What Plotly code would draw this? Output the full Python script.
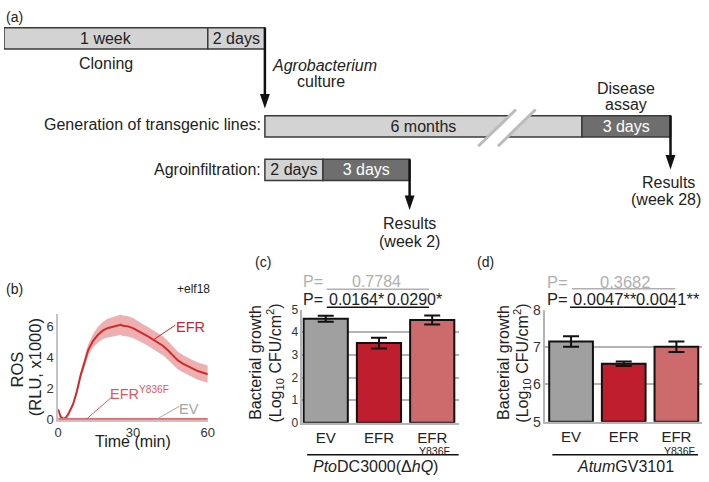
import plotly.graph_objects as go

W, H = 709, 482
FONT = "Liberation Sans, Arial, Helvetica, sans-serif"
INK = "#222222"

# ---- (a) experimental timeline (schematic units) ----
stage_labels = ["1 week", "2 days", "6 months", "3 days", "2 days", "3 days"]
stage_start = [0, 207, 265, 587, 265, 324]
stage_end = [207, 265, 587, 677, 324, 412]
stage_row = [31.5, 31.5, 122.5, 122.5, 167.5, 167.5]
stage_dark = [False, False, False, True, False, True]

# ---- (b) ROS burst, +elf18 ----
ros_time = [0, 1, 2, 3, 4, 5, 6, 7.5, 9, 10.5, 12, 14, 16, 18, 20, 22, 24, 25, 26, 28,
            30, 32, 34, 36, 38, 40, 42, 44, 46, 48, 50, 52, 54, 56, 58, 60]
efr_mean = [0.68, 0.2, 0.07, 0.12, 0.35, 0.7, 1.0, 1.82, 2.85, 3.64, 4.45, 5.05, 5.45, 5.72,
            5.88, 5.95, 6.02, 6.08, 6.02, 5.98, 5.87, 5.72, 5.52, 5.34, 5.14, 4.95, 4.74,
            4.45, 4.12, 3.8, 3.6, 3.42, 3.27, 3.12, 3.02, 2.92]
efr_err = [0.05, 0.05, 0.05, 0.05, 0.07, 0.1, 0.12, 0.18, 0.25, 0.3, 0.36, 0.42, 0.5, 0.55,
           0.6, 0.62, 0.65, 0.66, 0.66, 0.65, 0.64, 0.62, 0.6, 0.6, 0.6, 0.6, 0.6, 0.6,
           0.58, 0.56, 0.55, 0.55, 0.55, 0.55, 0.55, 0.55]
flat_time = [0, 10, 20, 30, 40, 50, 60]
mut_mean = [0.06, 0.05, 0.05, 0.05, 0.05, 0.05, 0.05]
ev_mean = [0.0, 0.0, 0.0, 0.0, 0.0, 0.0, 0.0]

# ---- (c) / (d) bacterial growth ----
genotypes = ["EV", "EFR", "EFR"]
mutant_tag = "Y836F"
pto_mean = [4.6, 3.52, 4.54]
pto_err = [0.13, 0.24, 0.2]
atum_mean = [7.15, 6.55, 7.01]
atum_err = [0.14, 0.06, 0.14]
bar_colors = ["#A0A0A0", "#BE1E2D", "#CD6A6B"]


def px(x):
    return x / W


def py(y):
    return 1 - y / H


fig = go.Figure()

# timeline bars
fig.add_trace(go.Bar(
    orientation='h',
    y=stage_row,
    x=[e - s for s, e in zip(stage_start, stage_end)],
    base=stage_start,
    width=22,
    text=stage_labels,
    textposition='inside',
    insidetextanchor='middle',
    constraintext='none',
    textangle=0,
    insidetextfont=dict(size=16, color=['white' if d else INK for d in stage_dark]),
    marker=dict(color=['#6E6E6E' if d else '#D3D3D3' for d in stage_dark],
                line=dict(color='#3A3A3A', width=1.5)),
    hoverinfo='skip',
    xaxis='x4', yaxis='y4'
))

# ROS traces
fig.add_trace(go.Scatter(x=ros_time, y=[m + e for m, e in zip(efr_mean, efr_err)],
                         mode='lines', line=dict(width=0), hoverinfo='skip'))
fig.add_trace(go.Scatter(x=ros_time, y=[m - e for m, e in zip(efr_mean, efr_err)],
                         mode='lines', line=dict(width=0), fill='tonexty',
                         fillcolor='rgba(222,110,110,0.55)', hoverinfo='skip'))
fig.add_trace(go.Scatter(x=ros_time, y=efr_mean, mode='lines',
                         line=dict(color='#D22A2A', width=2)))
fig.add_trace(go.Scatter(x=flat_time, y=ev_mean, mode='lines',
                         line=dict(color='#A8A8A8', width=2)))
fig.add_trace(go.Scatter(x=flat_time, y=mut_mean, mode='lines',
                         line=dict(color='#EC6A70', width=2)))

# growth bars
fig.add_trace(go.Bar(
    x=[0, 1, 2], y=pto_mean, width=0.83,
    marker=dict(color=bar_colors, line=dict(color='#111', width=2)),
    error_y=dict(type='data', array=pto_err, color='#111', thickness=2, width=8),
    xaxis='x2', yaxis='y2'
))
fig.add_trace(go.Bar(
    x=[0, 1, 2], y=[m - 5 for m in atum_mean], base=[5, 5, 5], width=0.83,
    marker=dict(color=bar_colors, line=dict(color='#111', width=2)),
    error_y=dict(type='data', array=atum_err, color='#111', thickness=2, width=8),
    xaxis='x3', yaxis='y3'
))

GRID = '#B4B4B4'
tick_font = dict(size=13, color='#333')
bar_axis = dict(showline=True, linecolor=GRID, linewidth=1.5, ticks='', zeroline=False)

fig.update_layout(
    width=W, height=H,
    margin=dict(l=0, r=0, t=0, b=0),
    paper_bgcolor='white', plot_bgcolor='white',
    font=dict(family=FONT, color=INK),
    showlegend=False,
    barmode='overlay',
    xaxis4=dict(domain=[0, 1], range=[0, W], visible=False, anchor='y4'),
    yaxis4=dict(domain=[py(250), 1], range=[250, 0], visible=False, anchor='x4'),
    xaxis=dict(domain=[px(55), px(207)], range=[0, 60], tickvals=[0, 30, 60],
               showline=True, linecolor='#C4C4C4', linewidth=1.5, ticks='',
               showgrid=False, zeroline=False, tickfont=tick_font, anchor='y'),
    yaxis=dict(domain=[py(426), py(317)], range=[0, 6.74], tickvals=[0, 2, 4, 6],
               showline=True, linecolor='#C4C4C4', linewidth=1.5, ticks='',
               showgrid=False, zeroline=False, tickfont=tick_font, anchor='x'),
    xaxis2=dict(domain=[px(303), px(462)], range=[-0.44, 2.5], tickvals=[0, 1, 2],
                ticktext=genotypes, showgrid=False, tickfont=dict(size=15, color=INK),
                anchor='y2', **bar_axis),
    yaxis2=dict(domain=[py(429), py(312)], range=[0, 5], tickvals=[0, 1, 2, 3, 4, 5],
                showgrid=True, gridcolor=GRID, gridwidth=1.5,
                tickfont=dict(size=12, color='#333'), anchor='x2', **bar_axis),
    xaxis3=dict(domain=[px(550), 1], range=[-0.486, 2.486], tickvals=[0, 1, 2],
                ticktext=genotypes, showgrid=False, tickfont=dict(size=15, color=INK),
                anchor='y3', **bar_axis),
    yaxis3=dict(domain=[py(428), py(312)], range=[5, 8], tickvals=[5, 6, 7, 8],
                showgrid=True, gridcolor=GRID, gridwidth=1.5,
                tickfont=dict(size=14, color='#333'), anchor='x3', **bar_axis),
)

ann = []
shapes = []


def note(text, x, y, size=16, color=INK, xanchor='center', angle=0, xref='paper', yref='paper'):
    # x, y in pixels when the ref is 'paper', otherwise in axis units
    if xref == 'paper':
        x = px(x)
    if yref == 'paper':
        y = py(y)
    ann.append(dict(text=text, x=x, y=y, xref=xref, yref=yref, showarrow=False,
                    xanchor=xanchor, yanchor='middle', textangle=angle,
                    font=dict(size=size, color=color, family=FONT)))


# panel letters
note('(a)', 0, 9, size=14, xanchor='left')
note('(b)', 0, 291, size=14, xanchor='left')
note('(c)', 253, 263, size=14, xanchor='left')
note('(d)', 478, 263, size=14, xanchor='left')

# (a) labels
note('Cloning', 104, 57)
note('<i>Agrobacterium</i>', 270, 59, xanchor='left')
note('culture', 322, 76)
note('Generation of transgenic lines:', 263, 121, xanchor='right')
note('Agroinfiltration:', 263, 167, xanchor='right')
note('Disease', 632, 83)
note('assay', 632, 100)
note('Results', 412, 223)
note('(week 2)', 412, 241)
note('Results', 675, 180)
note('(week 28)', 672, 198)

# arrows at the end of each row: shaft + head
for xa, top, tip in [(265, 20.5, 104), (677, 111.5, 167), (412, 156.5, 209)]:
    shapes.append(dict(type='line', xref='x4', yref='y4', x0=xa, x1=xa, y0=top, y1=tip - 10,
                       line=dict(color='#111', width=2.5)))
    shapes.append(dict(type='path', xref='x4', yref='y4',
                       path=f'M {xa - 5} {tip - 15} L {xa + 5} {tip - 15} L {xa} {tip} Z',
                       fillcolor='#111', line=dict(width=0)))

# break marks on the 6 month bar
shapes.append(dict(type='path', xref='x4', yref='y4',
                   path='M 481.7 143 L 520 105 L 540 105 L 501.7 143 Z',
                   fillcolor='white', line=dict(width=0)))
for x0 in (481.7, 501.7):
    shapes.append(dict(type='line', xref='x4', yref='y4', x0=x0, y0=143, x1=x0 + 38.3, y1=105,
                       line=dict(color='#BBBBBB', width=3)))

# (b) labels
note('+elf18', 192, 291, size=12)
note('ROS', 13, 374, size=16.5, angle=-90)
note('(RLU, x1000)', 31, 372, size=16.5, angle=-90)
note('Time (min)', 131, 448, size=16)
note('EFR', 52.9, 5.94, size=14.5, color='#C8262C', xref='x', yref='y')
note('EFR<sup>Y836F</sup>', 20.1, 1.73, size=14.5, color='#E2585D', xanchor='left', xref='x', yref='y')
note('EV', 52.5, 0.68, size=14.5, color='#A6A6A6', xref='x', yref='y')
for (x0, y0, x1, y1, c) in [(38.3, 5.13, 47, 6.06, '#C8262C'),
                            (11, 0, 21.7, 1.48, '#E2585D'),
                            (39.1, 0, 48.6, 0.87, '#A6A6A6')]:
    shapes.append(dict(type='line', xref='x', yref='y', x0=x0, y0=y0, x1=x1, y1=y1,
                       line=dict(color=c, width=1)))

# (c) / (d) axis titles, mutant tag and strain labels
for xc1, xc2 in [(256, 275), (508, 526)]:
    note('Bacterial growth', xc1, 367, size=16, angle=-90)
    note('(Log<sub>10</sub> CFU/cm<sup>2</sup>)', xc2, 367, size=16, angle=-90)
note(mutant_tag, 2.05, 458, size=10.5, xref='x2')
note(mutant_tag, 2.05, 458, size=10.5, xref='x3')

note('<i>Pto</i>DC3000(Δ<i>hQ</i>)', 377, 474, size=16)
note('<i>Atum</i>GV3101', 631, 474, size=16)
for xr, a, b in [('x2', -0.35, 2.5), ('x3', -0.355, 2.41)]:
    shapes.append(dict(type='line', xref=xr, yref='paper', x0=a, x1=b, y0=py(462), y1=py(462),
                       line=dict(color='#111', width=1.5)))

# P values
PGRAY = '#B0B0B0'
note('P=', 302, 283, size=16, color=PGRAY, xanchor='left')
note('0.7784', 378, 283, size=16, color=PGRAY)
note('P=', 302, 301, size=16, xanchor='left')
note('0.0164*', 0.02, 301, size=16, xanchor='left', xref='x2')
note('0.0290*', 1.11, 301, size=16, xanchor='left', xref='x2')
shapes.append(dict(type='line', xref='x2', yref='paper', x0=0.02, x1=1.94, y0=py(291), y1=py(291),
                   line=dict(color=PGRAY, width=1.5)))
for a, b in [(0.02, 0.98), (0.98, 1.94)]:
    shapes.append(dict(type='line', xref='x2', yref='paper', x0=a, x1=b, y0=py(309.5), y1=py(309.5),
                       line=dict(color='#111', width=1.5)))

note('P=', 550, 283, size=16.5, color=PGRAY, xanchor='left')
note('0.3682', 631, 283, size=16.5, color=PGRAY)
note('P=', 550, 301, size=16.5, xanchor='left')
note('0.0047**', 0.0, 301, size=16.5, xanchor='left', xref='x3')
note('0.0041**', 1.196, 301, size=16.5, xanchor='left', xref='x3')
shapes.append(dict(type='line', xref='x3', yref='paper', x0=0.02, x1=1.98, y0=py(290.5), y1=py(290.5),
                   line=dict(color=PGRAY, width=1.5)))
for a, b in [(-0.02, 1.0), (1.0, 1.98)]:
    shapes.append(dict(type='line', xref='x3', yref='paper', x0=a, x1=b, y0=py(309.5), y1=py(309.5),
                       line=dict(color='#111', width=1.5)))

fig.update_layout(annotations=ann, shapes=shapes)
fig.write_html("out.html", config={'displayModeBar': False},
               post_script="document.body.style.margin='0px';")
